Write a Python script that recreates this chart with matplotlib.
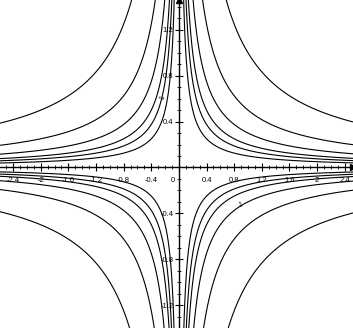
import numpy as np
import matplotlib
matplotlib.use("Agg")
import matplotlib.pyplot as plt
from matplotlib.ticker import MultipleLocator

# contour levels of f(x, y) = x*y (same set used for both signs)
levels_pos = [1, 0.5, 0.3, 0.2, 0.15, 0.1]
x_range = (-2.59, 2.52)
y_range = (-1.40, 1.46)
x_ticks = [-2.4, -2, -1.6, -1.2, -0.8, -0.4, 0, 0.4, 0.8, 1.2, 1.6, 2, 2.4]
x_tick_labels = ["-2.4", "-2", "-1.6", "-1.2", "-0.8", "-0.4", "",
                 "0.4", "0.8", "1.2", "1.6", "2", "2.4"]
y_ticks = [-1.2, -0.8, -0.4, 0.4, 0.8, 1.2]
y_tick_labels = ["-1.2", "-0.8", "-0.4", "0.4", "0.8", "1.2"]

plt.rcParams["font.family"] = ["Liberation Sans", "DejaVu Sans"]

fig = plt.figure(figsize=(3.53, 3.28), dpi=100)
ax = fig.add_axes([0, 0, 1, 1])

xs = np.linspace(x_range[0], x_range[1], 900)
ys = np.linspace(y_range[0], y_range[1], 900)
X, Y = np.meshgrid(xs, ys)
Z = X * Y
levels = sorted([-v for v in levels_pos] + levels_pos)
ax.contour(X, Y, Z, levels=levels, colors="black", linewidths=0.8,
           linestyles="solid")

ax.set_xlim(*x_range)
ax.set_ylim(*y_range)

# axes through the origin
for side in ("top", "right"):
    ax.spines[side].set_visible(False)
ax.spines["left"].set_position("zero")
ax.spines["bottom"].set_position("zero")
ax.spines["left"].set_linewidth(1.0)
ax.spines["bottom"].set_linewidth(1.0)

ax.set_xticks(x_ticks)
ax.set_xticklabels(x_tick_labels)
ax.set_yticks(y_ticks)
ax.set_yticklabels(y_tick_labels)
ax.xaxis.set_minor_locator(MultipleLocator(0.1))
ax.yaxis.set_minor_locator(MultipleLocator(0.1))
ax.tick_params(which="major", direction="inout", length=6, width=0.8,
               labelsize=5.5, pad=4)
ax.tick_params(which="minor", direction="inout", length=3.5, width=0.6)
ax.tick_params(axis="y", which="major", pad=1)

# origin label sits left of the vertical axis
ax.annotate("0", xy=(0, 0), xytext=(-4.5, -9.5), textcoords="offset points",
            fontsize=5.5, ha="center", va="center")

# arrow heads on the positive ends
ax.plot(1, 0, ">k", markersize=4, transform=ax.get_yaxis_transform(), clip_on=False)
ax.plot(0, 1, "^k", markersize=4, transform=ax.get_xaxis_transform(), clip_on=False)

# contour labels
ax.text(-0.24, 0.61, "1", fontsize=5, rotation=70, ha="center", va="center")
ax.text(0.88, -0.33, "1", fontsize=5, rotation=10, ha="center", va="center")

fig.savefig("out.png", dpi=100)
